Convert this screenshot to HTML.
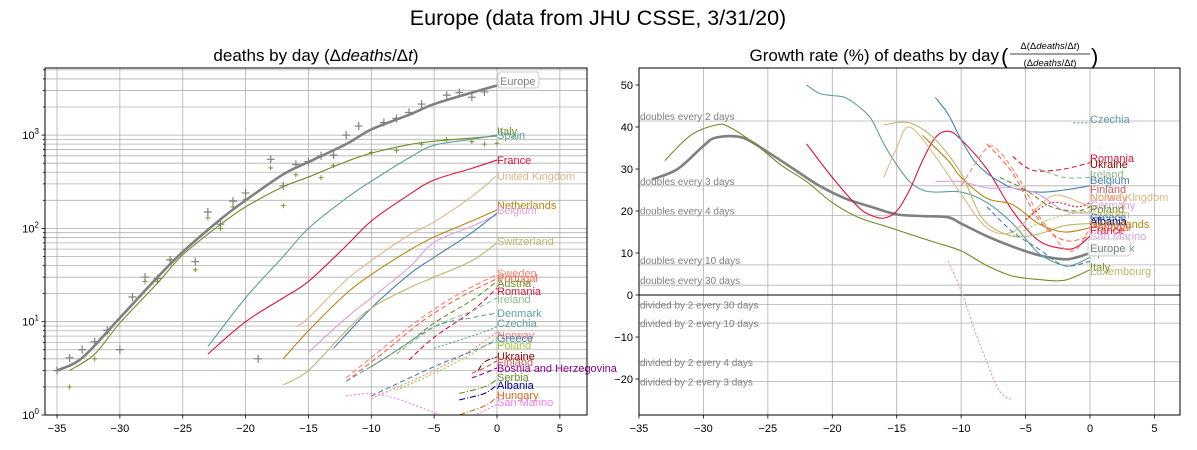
<!DOCTYPE html>
<html><head><meta charset="utf-8"><style>
body{margin:0;background:#fff;}
svg{display:block;font-family:"Liberation Sans","DejaVu Sans",sans-serif;}
</style></head><body>
<svg id="chart" width="1197" height="450" viewBox="0 0 1197 450">
<text x="598" y="25" font-size="21.5" text-anchor="middle">Europe (data from JHU CSSE, 3/31/20)</text>
<text x="316" y="61" font-size="17" text-anchor="middle">deaths by day (Δ<tspan font-style="italic">deaths</tspan>/Δ<tspan font-style="italic">t</tspan>)</text>
<g>
<text x="999" y="61" font-size="17" text-anchor="end">Growth rate (%) of deaths by day</text>
<text x="1001" y="64" font-size="22">(</text>
<text x="1050" y="49" font-size="9.5" text-anchor="middle">Δ(Δ<tspan font-style="italic">deaths</tspan>/Δ<tspan font-style="italic">t</tspan>)</text>
<line x1="1010" y1="54" x2="1090" y2="54" stroke="#000" stroke-width="0.8"/>
<text x="1050" y="66" font-size="9.5" text-anchor="middle">(Δ<tspan font-style="italic">deaths</tspan>/Δ<tspan font-style="italic">t</tspan>)</text>
<text x="1091" y="64" font-size="22">)</text>
</g>
<g id="left"></g>
<g id="right"></g>
</svg>
<script>
// ---------- LEFT CHART DATA (deaths per day, log scale) ----------
const leftNames = ["Europe","Italy","Spain","France","United Kingdom","Netherlands","Belgium","Germany","Switzerland","Sweden","Portugal","Austria","Romania","Ireland","Denmark","Czechia","Norway","Greece","Poland","Ukraine","Finland","Bosnia","Serbia","Albania","Hungary","San Marino"];
const leftColors = ["#808080","#6b8e23","#5f9ea0","#dc143c","#deb887","#b8860b","#dda0dd","#4682b4","#bdb76b","#fa8072","#ff6347","#6b8e23","#dc143c","#8fbc8f","#5f9ea0","#5f9ea0","#fa8072","#4682b4","#9acd32","#8b0000","#cd5c5c","#8b008b","#6b8e23","#00008b","#d2691e","#ee82ee"];
const leftDash = ["","","","","","","","","","5,3","5,3","5,3","5,3","5,3","5,3","2,2","2,2","5,3","2,2","6,2,1,2","5,3","5,3","6,2,1,2","6,2,1,2","6,2,1,2","2,2"];
const leftDays = [
[-35,-33,-30,-27,-25,-22,-20,-17,-15,-12,-10,-7,-5,-2,0],
[-34,-32,-30,-27,-25,-22,-20,-17,-15,-12,-10,-7,-5,-2,0],
[-23,-20,-17,-15,-12,-10,-7,-5,-2,0],
[-23,-20,-17,-15,-12,-10,-7,-5,-2,0],
[-16,-15,-12,-10,-7,-5,-2,0],
[-17,-15,-12,-10,-7,-5,-2,0],
[-15,-12,-10,-7,-5,-2,0],
[-13,-10,-7,-5,-2,0],
[-17,-15,-12,-10,-7,-5,-2,0],
[-12,-9,-6,-3,0],
[-12,-9,-6,-3,0],
[-10,-7,-5,-2,0],
[-7,-5,-2,0],
[-8,-5,-2,0],
[-12,-9,-5,-2,0],
[-5,-2,0],
[-10,-5,-2,0],
[-10,-5,-2,0],
[-8,-5,-2,0],
[-1.5,-1,0],
[-2,-1,0],
[-2,-1,0],
[-3,-1,0],
[-3,-1,0],
[-3,-1,0],
[-12,-10,-8,-6,-3,0]];
const leftValues = [
[3,4.1,11,30,56,125,200,380,515,800,1150,1650,2150,2850,3400],
[3,4.5,9.7,26,52,110,170,280,355,520,640,790,860,930,980],
[5.4,18,50,100,210,320,570,780,900,1000],
[4.5,10,18,27,65,120,230,330,440,540],
[8.8,11,28,45,85,117,220,370],
[4,8,20,32,58,81,120,158],
[4.7,11,18,38,71,105,140],
[5.2,14,32,49,90,146],
[2.1,3,8,14,23,30,45,70],
[2.5,5.3,11,20,32],
[2.3,4.7,10,18,29],
[3.3,6,9.7,17,27],
[3.9,6.8,13,23],
[4.5,8.8,13,18],
[2.3,4,8.8,11,12.4],
[5.2,7,8.8],
[1.5,3,5,7.7],
[1.6,3.3,4.8,6.3],
[1.85,2.8,4.5,6.8],
[3,3.7,4.2],
[2.8,3.2,3.8],
[2.5,2.8,3.2],
[1.7,2,2.4],
[1.45,1.7,2.1],
[1,1.25,1.55],
[1.6,1.7,1.5,1.2,0.9,1.3]];
const leftLabelY = [81,131,135,160,176,205,210,210,241,273,278,283,291,299,313,323,335,338,345,356,362,368,377,385,395,402];
const europeMarkDays = [-35,-34,-33,-32,-31,-30,-29,-28,-27,-26,-24,-23,-22,-21,-20,-19,-18,-17,-16,-15,-14,-13,-12,-11,-9,-8,-7,-6,-4,-3,-2,-1];
const europeMarkVals = [3,4.1,5,6.1,8.1,5,18.4,30,29,46,44,150,111,196,240,4,550,286,485,520,600,610,1000,1250,1360,1510,1750,2150,2680,2860,2550,2900];
const italyMarkDays = [-34,-32,-31,-28,-27,-26,-24,-23,-22,-21,-20,-18,-17,-16,-14,-13,-10,-8,-6,-4,-2,-1,0];
const italyMarkVals = [2,4,7.7,27,27,46,36,130,100,170,205,445,175,375,350,470,650,680,800,900,850,800,820];
// ---------- RIGHT CHART DATA (growth rate %) ----------
const rightNames = ["Europe","Italy","Spain","France","Belgium","United Kingdom","Switzerland","Netherlands","Germany","Romania","Ireland","Sweden","Portugal","Austria","Denmark","Czechia","San Marino","Poland","Norway"];
const rightColors = ["#808080","#6b8e23","#5f9ea0","#dc143c","#4682b4","#deb887","#bdb76b","#b8860b","#dda0dd","#dc143c","#8fbc8f","#fa8072","#ff6347","#6b8e23","#4682b4","#5f9ea0","#ee82ee","#9acd32","#dc143c"];
const rightDash = ["","","","","","","","","","5,3","5,3","5,3","5,3","5,3","5,3","2,2","2,2","2,2","2,2"];
const rightDays = [
[-34,-32,-30,-29,-27,-25,-23,-21,-19,-17,-15,-13,-11,-10,-8,-6,-4,-2,-1,0],
[-33,-31,-29,-28,-26,-24,-22,-20,-18,-16,-14,-12,-10,-8,-6,-4,-2,0],
[-22,-21,-20,-19,-18,-17,-16,-15,-14,-13,-12,-10,-8,-6,-4,-2,-1,0],
[-22,-20,-18,-17,-16,-15,-14,-13,-12,-11,-10,-8,-6,-4,-2,-1,0],
[-12,-11,-10,-9,-8,-7,-6,-4,-2,0],
[-16,-15,-14,-12,-10,-8,-6,-4,-3,-2,0],
[-16,-14,-12,-10,-9,-8,-6,-4,-2,0],
[-13,-11,-10,-8,-6,-4,-2,0],
[-12,-10,-8,-6,-4,-2,0],
[-6,-5,-4,-2,0],
[-4,-2,0],
[-10,-8,-7,-6,-5,-4,-3,-2,-1,0],
[-8,-6,-4,-2,0],
[-7,-5,-3,-1,0],
[-8,-6,-4,-2,0],
[-1.3,0],
[-11,-10,-9,-8,-7,-6],
[-6,-4,-2,0],
[-5,-3,-1,0]];
const rightValues = [
[27.5,30,35.5,37.5,37.5,34,30,26,23,21,19.2,18.8,18.5,17,14,11.5,9.5,8.5,9,10],
[32,38,40.5,40,36,31,27,22,18.5,16.5,14.5,12.5,10.5,7,4.5,3.7,3.5,6],
[50,48,47.5,47,45,42,36,31,27,25,24.5,24.5,22,17,10,7,7.5,9],
[36,28,21,19,18.3,20,25,32,37.5,39,37,30,20,13,11,11.5,14],
[47,43,37,32,29,27,25.5,24.5,25,26],
[28,35,40,33,24,16,15,21,23.5,23.5,21],
[40.5,41,37,29,22,17,14,14.5,16.5,17],
[38,32,28,23,21.5,17,15,16],
[27,27,25.5,25.5,24,20,19.5],
[33,30.5,29.5,30,31.5],
[30,28,28],
[26,35,34,30,25,19,15,11,11,16],
[36,29,18,13,14],
[28,25,21,20,21],
[21,15,11,7,8],
[41,41],
[8,1,-8,-16,-23,-25],
[14,17,19,20],
[18,22,21,22]];
const rightLabels = ["Czechia","Romania","Ukraine","Ireland","Belgium","Finland","Norway","United Kingdom","Germany","Poland","Sweden","Greece","Albania","Netherlands","Portugal","France","San Marino","Denmark","Spain","Italy","Luxembourg"];
const rightLabelColors = ["#5f9ea0","#dc143c","#8b0000","#8fbc8f","#4682b4","#cd5c5c","#fa8072","#deb887","#dda0dd","#6b8e23","#bdb76b","#4682b4","#00008b","#b8860b","#ff6347","#dc143c","#dda0dd","#5f9ea0","#5f9ea0","#6b8e23","#bdb76b"];
const rightLabelY = [119,158,164,174,180,189,197,197,205,209,214,217,221,224,227,230,236,248,252,267,271];
const doublingDays = [2,3,4,10,30];
const halvingDays = [30,10,4,3];
const xTicks = [-35,-30,-25,-20,-15,-10,-5,0,5];
const rightYTicks = [-20,-10,0,10,20,30,40,50];

const NS="http://www.w3.org/2000/svg";
function mk(parent,tag,attrs,text){const e=document.createElementNS(NS,tag);for(const k in attrs)e.setAttribute(k,attrs[k]);if(text!==undefined)e.textContent=text;parent.appendChild(e);return e;}
function smooth(pts){if(pts.length<3)return "M"+pts.map(p=>p.join(",")).join("L");let d="M"+pts[0][0]+","+pts[0][1];for(let i=0;i<pts.length-1;i++){const p0=pts[Math.max(0,i-1)],p1=pts[i],p2=pts[i+1],p3=pts[Math.min(pts.length-1,i+2)];const c1=[p1[0]+(p2[0]-p0[0])/6,p1[1]+(p2[1]-p0[1])/6],c2=[p2[0]-(p3[0]-p1[0])/6,p2[1]-(p3[1]-p1[1])/6];d+="C"+c1+" "+c2+" "+p2;}return d;}

// ---------- LEFT ----------
const L={x0:45,x1:587,y0:68,y1:415};
const lx=v=>497+v*12.571;
const ly=v=>415-Math.log10(v)*93.3;
const gl=document.getElementById('left');
mk(gl,'defs',{}).innerHTML='<clipPath id="cl"><rect x="45" y="68" width="542" height="347"/></clipPath><clipPath id="cr"><rect x="639" y="68" width="541" height="347"/></clipPath>';
const lgrid=mk(gl,'g',{});


for(let dec=0;dec<4;dec++)for(let m=1;m<10;m++){const v=m*Math.pow(10,dec);const y=ly(v);if(y<L.y0||y>L.y1)continue;mk(lgrid,'line',{x1:L.x0,x2:L.x1,y1:y,y2:y,stroke:'#b0b0b0','stroke-width':0.8});mk(lgrid,'line',{x1:L.x0-(m===1?3.5:2),x2:L.x0,y1:y,y2:y,stroke:'#000','stroke-width':0.8});}
xTicks.forEach(t=>{const x=lx(t);mk(lgrid,'line',{x1:x,x2:x,y1:L.y0,y2:L.y1,stroke:'#b0b0b0','stroke-width':0.8});mk(lgrid,'line',{x1:x,x2:x,y1:L.y1,y2:L.y1+3.5,stroke:'#000','stroke-width':0.8});const tl=mk(gl,'text',{x:x,y:L.y1+17,'font-size':11,'text-anchor':'middle'},t<0?'\u2212'+(-t):t);});
[0,1,2,3].forEach(p=>{const t=mk(gl,'text',{x:L.x0-6,y:ly(Math.pow(10,p))+4,'font-size':11,'text-anchor':'end'});t.innerHTML='10<tspan dy="-5" font-size="8">'+p+'</tspan>';});
const lplot=mk(gl,'g',{'clip-path':'url(#cl)'});
function marks(g,days,vals,color,size){days.forEach((d,i)=>{const x=lx(d),y=ly(vals[i]);const p=mk(g,'path',{d:`M${x-size},${y}H${x+size}M${x},${y-size}V${y+size}`,stroke:color,'stroke-width':size>3?1.2:0.9});});}
marks(lplot,europeMarkDays,europeMarkVals,'#808080',4);
marks(lplot,italyMarkDays,italyMarkVals,'#6b8e23',2.5);
leftNames.forEach((n,i)=>{const pts=leftDays[i].map((d,j)=>[lx(d),ly(leftValues[i][j])]);const p=mk(lplot,'path',{d:smooth(pts),fill:'none',stroke:leftColors[i],'stroke-width':i===0?2.6:1.1,'stroke-dasharray':leftDash[i]});
 if(i===0){const r=mk(gl,'rect',{x:498,y:leftLabelY[i]-9,width:41,height:16,rx:3,fill:'#fff',stroke:'#ccc'});}
 if(n==='Germany')return;
 const t=mk(gl,'text',{x:i===0?500:497,y:leftLabelY[i]+4,'font-size':11,fill:leftColors[i]},n==='Bosnia'?'Bosnia and Herzegovina':n);});
const lf=mk(gl,'rect',{x:L.x0,y:L.y0,width:L.x1-L.x0,height:L.y1-L.y0,fill:'none',stroke:'#000','stroke-width':1});


// ---------- RIGHT ----------
const R={x0:639,x1:1180,y0:68,y1:415};
const rx=v=>1090+v*12.886;
const ry=v=>295-v*4.2;
const gr=document.getElementById('right');
const rgrid=mk(gr,'g',{});


xTicks.forEach(t=>{const x=rx(t);mk(rgrid,'line',{x1:x,x2:x,y1:R.y0,y2:R.y1,stroke:'#b0b0b0','stroke-width':0.8});mk(rgrid,'line',{x1:x,x2:x,y1:R.y1,y2:R.y1+3.5,stroke:'#000','stroke-width':0.8});const tl=mk(gr,'text',{x:x,y:R.y1+17,'font-size':11,'text-anchor':'middle'},t<0?'\u2212'+(-t):t);});
rightYTicks.forEach(t=>{const y=ry(t);mk(rgrid,'line',{x1:R.x0-3.5,x2:R.x0,y1:y,y2:y,stroke:'#000','stroke-width':0.8});const tl=mk(gr,'text',{x:R.x0-6,y:y+4,'font-size':11,'text-anchor':'end'},t<0?'\u2212'+(-t):t);});
doublingDays.forEach(d=>{const v=100*(Math.pow(2,1/d)-1);const y=ry(v);mk(rgrid,'line',{x1:R.x0,x2:R.x1,y1:y,y2:y,stroke:'#b0b0b0','stroke-width':0.8});const t=mk(gr,'text',{x:R.x0+1,y:y-1,'font-size':10,fill:'#808080'},'doubles every '+d+' days');});
halvingDays.forEach(d=>{const v=100*(Math.pow(2,-1/d)-1);const y=ry(v);mk(rgrid,'line',{x1:R.x0,x2:R.x1,y1:y,y2:y,stroke:'#b0b0b0','stroke-width':0.8});const t=mk(gr,'text',{x:R.x0+1,y:y+4,'font-size':10,fill:'#808080'},'divided by 2 every '+d+' days');});
const zl=mk(gr,'line',{x1:R.x0,x2:R.x1,y1:ry(0),y2:ry(0),stroke:'#000','stroke-width':1});

const rplot=mk(gr,'g',{'clip-path':'url(#cr)'});
rightNames.forEach((n,i)=>{const pts=rightDays[i].map((d,j)=>[rx(d),ry(rightValues[i][j])]);const p=mk(rplot,'path',{d:smooth(pts),fill:'none',stroke:rightColors[i],'stroke-width':i===0?2.6:1.1,'stroke-dasharray':rightDash[i]});});
rightLabels.forEach((n,i)=>{const t=mk(gr,'text',{x:1090,y:rightLabelY[i]+4,'font-size':11,fill:rightLabelColors[i]},n);});
const eb=mk(gr,'rect',{x:1088,y:239,width:42,height:17,rx:3,fill:'#fff','fill-opacity':0.8,stroke:'#ccc'});

const et=mk(gr,'text',{x:1090,y:252,'font-size':11,fill:'#808080'},'Europe');

const rf=mk(gr,'rect',{x:R.x0,y:R.y0,width:R.x1-R.x0,height:R.y1-R.y0,fill:'none',stroke:'#000','stroke-width':1});

</script>
</body></html>
